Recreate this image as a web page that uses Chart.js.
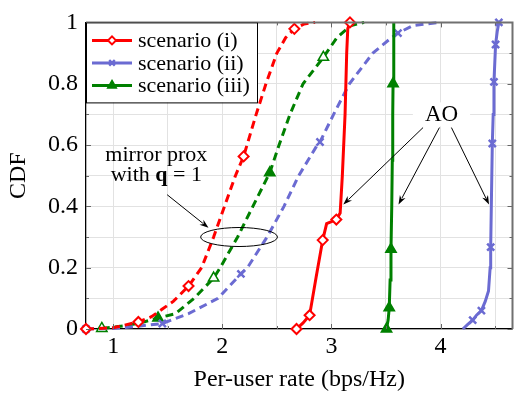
<!DOCTYPE html>
<html><head><meta charset="utf-8">
<script src="https://cdn.jsdelivr.net/npm/chart.js@4.4.0/dist/chart.umd.min.js"></script>
<style>html,body{margin:0;padding:0;background:#fff;}#wrap{width:520px;height:394px;}</style>
</head><body><div id="wrap"><canvas id="c" width="520" height="394"></canvas></div>
<script>
// ---------- data ----------
const seriesNames = ['scenario (i)', 'scenario (ii)', 'scenario (iii)'];

// mirror prox with q = 1 (dashed)
const mp1X = [0.75, 1.0, 1.23, 1.35, 1.45, 1.55, 1.69, 1.81, 1.92, 2.02, 2.12, 2.195, 2.31, 2.40, 2.50, 2.58, 2.66, 2.75, 2.85];
const mp1Y = [0, 0.004, 0.023, 0.04, 0.065, 0.09, 0.14, 0.2, 0.3, 0.4, 0.5, 0.563, 0.7, 0.8, 0.9, 0.95, 0.979, 0.995, 1.0];
const mp1Marks = [0, 2, 6, 11, 16];

const mp2X = [0.75, 1.0, 1.2, 1.45, 1.69, 1.96, 2.17, 2.23, 2.41, 2.565, 2.70, 2.87, 2.895, 3.02, 3.165, 3.38, 3.55, 3.61, 3.75, 4.0];
const mp2Y = [0, 0.002, 0.008, 0.018, 0.05, 0.1, 0.18, 0.2, 0.3, 0.4, 0.5, 0.6, 0.61, 0.7, 0.8, 0.9, 0.95, 0.965, 0.99, 1.0];
const mp2Marks = [0, 3, 6, 12, 17];

const mp3X = [0.895, 1.1, 1.25, 1.41, 1.57, 1.74, 1.92, 1.98, 2.14, 2.28, 2.435, 2.52, 2.62, 2.74, 2.926, 3.05, 3.18, 3.3];
const mp3Y = [0.002, 0.01, 0.02, 0.036, 0.05, 0.1, 0.166, 0.2, 0.3, 0.4, 0.51, 0.6, 0.7, 0.8, 0.886, 0.95, 0.99, 1.0];
const mp3Marks = [0, 3, 6, 10, 14];

// AO (solid)
const ao1X = [2.68, 2.74, 2.80, 2.86, 2.92, 2.956, 3.00, 3.045, 3.08, 3.10, 3.125, 3.14, 3.15, 3.17];
const ao1Y = [0, 0.02, 0.045, 0.17, 0.29, 0.344, 0.35, 0.357, 0.378, 0.5, 0.7, 0.9, 0.98, 1.0];
const ao1Marks = [0, 2, 4, 7, 13];

const ao2X = [4.205, 4.25, 4.295, 4.33, 4.375, 4.41, 4.44, 4.455, 4.46, 4.468, 4.475, 4.483, 4.49, 4.505, 4.52, 4.535];
const ao2Y = [0, 0.015, 0.029, 0.045, 0.06, 0.09, 0.124, 0.2, 0.267, 0.45, 0.605, 0.7, 0.806, 0.928, 0.97, 1.0];
const ao2Marks = [2, 4, 8, 10, 12, 13, 15];

const ao3X = [3.505, 3.52, 3.53, 3.538, 3.546, 3.553, 3.558, 3.562, 3.565, 3.57, 3.573];
const ao3Y = [0, 0.03, 0.069, 0.16, 0.26, 0.4, 0.55, 0.7, 0.8, 0.9, 1.0];
const ao3Marks = [0, 2, 4, 8];

// axis ticks
const xMajor = [1, 2, 3, 4];
const xMinor = [1.5, 2.5, 3.5, 4.5];
const yMajor = [0, 0.2, 0.4, 0.6, 0.8, 1];
const yMinor = [0.1, 0.3, 0.5, 0.7, 0.9];

// annotations (data coordinates)
const mirrorLabel = {x: 1.395, y: 0.535};
const mirrorEllipse = {x: 2.153, y: 0.30, rx: 0.352, ry: 0.031};
const mirrorArrow = {from: [1.494, 0.438], to: [1.873, 0.33]};
const aoLabel = {x: 4.009, y: 0.70};
const aoArrows = [
  {from: [3.84, 0.657], to: [3.109, 0.406]},
  {from: [3.99, 0.657], to: [3.615, 0.406]},
  {from: [4.10, 0.657], to: [4.445, 0.406]}
];

// ---------- styles ----------
const RED = '#ff0000', BLUE = '#6b6bd2', GREEN = '#008000';
const SERIF = "'Liberation Serif', 'Times New Roman', serif";

function pts(xs, ys) { return xs.map((x, i) => ({x: x, y: ys[i]})); }
function radii(n, marks, r) { return Array.from({length: n}, (_, i) => marks.includes(i) ? r : 0); }

const styleOf = [
  {color: RED, pointStyle: 'rectRot', r: 5, bw: 2, fill: '#fff'},
  {color: BLUE, pointStyle: 'crossRot', r: 5, bw: 2.5, fill: BLUE},
  {color: GREEN, pointStyle: 'triangle', r: 6, bw: 1.5, fill: GREEN}
];

function ds(xs, ys, marks, s, dashed, fills) {
  return {
    data: pts(xs, ys),
    showLine: true,
    borderColor: s.color,
    backgroundColor: s.color,
    borderWidth: 3,
    borderDash: dashed ? [8, 5] : [],
    pointStyle: s.pointStyle,
    pointRadius: radii(xs.length, marks, s.r),
    pointHoverRadius: 0,
    pointBorderColor: s.color,
    pointBorderWidth: s.bw,
    pointBackgroundColor: fills || s.fill,
    tension: 0,
    clip: 10
  };
}

const mp3Fills = mp3X.map((_, i) => [0, 6, 14].includes(i) ? '#fff' : GREEN);

const datasets = [
  ds(ao1X, ao1Y, ao1Marks, styleOf[0], false),
  ds(ao2X, ao2Y, ao2Marks, styleOf[1], false),
  ds(ao3X, ao3Y, ao3Marks, styleOf[2], false),
  ds(mp1X, mp1Y, mp1Marks, styleOf[0], true),
  ds(mp2X, mp2Y, mp2Marks, styleOf[1], true),
  ds(mp3X, mp3Y, mp3Marks, styleOf[2], true, mp3Fills)
];

// ---------- decorations ----------
function arrow(ctx, x1, y1, x2, y2) {
  const a = Math.atan2(y2 - y1, x2 - x1), L = 9, W = 3.2;
  ctx.beginPath(); ctx.moveTo(x1, y1);
  ctx.lineTo(x2 - L * 0.8 * Math.cos(a), y2 - L * 0.8 * Math.sin(a)); ctx.stroke();
  ctx.beginPath(); ctx.moveTo(x2, y2);
  ctx.lineTo(x2 - L * Math.cos(a) + W * Math.sin(a), y2 - L * Math.sin(a) - W * Math.cos(a));
  ctx.lineTo(x2 - L * 0.7 * Math.cos(a), y2 - L * 0.7 * Math.sin(a));
  ctx.lineTo(x2 - L * Math.cos(a) - W * Math.sin(a), y2 - L * Math.sin(a) + W * Math.cos(a));
  ctx.closePath(); ctx.fill();
}

const extras = {
  id: 'extras',
  beforeDraw(chart) {
    const ctx = chart.ctx;
    ctx.save(); ctx.fillStyle = '#fff'; ctx.fillRect(0, 0, chart.width, chart.height); ctx.restore();
  },
  afterDraw(chart) {
    const ctx = chart.ctx, a = chart.chartArea, xs = chart.scales.x, ys = chart.scales.y;
    const px = v => xs.getPixelForValue(v), py = v => ys.getPixelForValue(v);
    ctx.save();
    // tick marks (inward)
    ctx.strokeStyle = '#666'; ctx.lineWidth = 1;
    [...xMajor, ...xMinor].forEach(v => {
      const L = xMajor.includes(v) ? 5 : 3, x = Math.round(px(v)) + 0.5;
      ctx.beginPath(); ctx.moveTo(x, a.bottom); ctx.lineTo(x, a.bottom - L);
      ctx.moveTo(x, a.top); ctx.lineTo(x, a.top + L); ctx.stroke();
    });
    [...yMajor, ...yMinor].forEach(v => {
      const L = yMajor.includes(v) ? 5 : 3, y = Math.round(py(v)) + 0.5;
      ctx.beginPath(); ctx.moveTo(a.left, y); ctx.lineTo(a.left + L, y);
      ctx.moveTo(a.right, y); ctx.lineTo(a.right - L, y); ctx.stroke();
    });
    // top / right frame
    ctx.strokeStyle = '#707070'; ctx.lineWidth = 2;
    ctx.beginPath(); ctx.moveTo(a.left, a.top); ctx.lineTo(a.right, a.top); ctx.lineTo(a.right, a.bottom); ctx.stroke();

    // mirror prox annotation
    ctx.fillStyle = '#000'; ctx.strokeStyle = '#000'; ctx.lineWidth = 1;
    ctx.textBaseline = 'middle'; ctx.textAlign = 'center';
    const fN = '22px ' + SERIF, fB = 'bold 22px ' + SERIF;
    ctx.font = fN;
    const mx = px(mirrorLabel.x), my = py(mirrorLabel.y);
    ctx.fillText('mirror prox', mx, my - 10);
    const p1 = 'with ', p3 = ' = 1';
    ctx.font = fN; const w1 = ctx.measureText(p1).width, w3 = ctx.measureText(p3).width;
    ctx.font = fB; const w2 = ctx.measureText('q').width;
    let sx = mx - (w1 + w2 + w3) / 2; ctx.textAlign = 'left';
    ctx.font = fN; ctx.fillText(p1, sx, my + 10);
    ctx.font = fB; ctx.fillText('q', sx + w1, my + 10);
    ctx.font = fN; ctx.fillText(p3, sx + w1 + w2, my + 10);
    ctx.beginPath();
    ctx.ellipse(px(mirrorEllipse.x), py(mirrorEllipse.y),
      px(mirrorEllipse.x + mirrorEllipse.rx) - px(mirrorEllipse.x),
      py(mirrorEllipse.y - mirrorEllipse.ry) - py(mirrorEllipse.y), 0, 0, 2 * Math.PI);
    ctx.stroke();
    arrow(ctx, px(mirrorArrow.from[0]), py(mirrorArrow.from[1]), px(mirrorArrow.to[0]), py(mirrorArrow.to[1]));

    // AO annotation
    ctx.font = '23px ' + SERIF; ctx.textAlign = 'center';
    const ax = px(aoLabel.x), ay = py(aoLabel.y), aw = ctx.measureText('AO').width;
    ctx.fillStyle = '#fff'; ctx.fillRect(ax - aw / 2 - 12, ay - 12, aw + 24, 24);
    ctx.fillStyle = '#000'; ctx.fillText('AO', ax, ay + 1);
    aoArrows.forEach(r => arrow(ctx, px(r.from[0]), py(r.from[1]), px(r.to[0]), py(r.to[1])));

    // legend
    const lx = a.left, ly = a.top, lw = 172, lh = 80;
    ctx.fillStyle = '#fff'; ctx.fillRect(lx, ly, lw, lh);
    ctx.strokeStyle = '#000'; ctx.lineWidth = 1;
    ctx.strokeRect(lx + 0.5, ly + 0.5, lw - 1, lh);
    ctx.font = '22px ' + SERIF; ctx.textAlign = 'left'; ctx.textBaseline = 'middle';
    seriesNames.forEach((name, i) => {
      const s = styleOf[i], y = ly + 18 + i * 22.5;
      ctx.strokeStyle = s.color; ctx.lineWidth = 3; ctx.setLineDash([]);
      ctx.beginPath(); ctx.moveTo(lx + 6, y); ctx.lineTo(lx + 46, y); ctx.stroke();
      ctx.fillStyle = s.fill; ctx.strokeStyle = s.color; ctx.lineWidth = s.bw;
      Chart.helpers.drawPoint(ctx, {pointStyle: s.pointStyle, radius: s.r - 1, borderWidth: s.bw, rotation: 0}, lx + 26, y);
      ctx.fillStyle = '#000';
      ctx.fillText(name, lx + 52, y + 1);
    });
    ctx.restore();
  }
};

const tickFont = {family: SERIF, size: 24};

new Chart(document.getElementById('c'), {
  type: 'scatter',
  data: {datasets: datasets},
  options: {
    responsive: false, animation: false, devicePixelRatio: 1,
    events: [],
    layout: {padding: {top: 14, right: 1, left: 0, bottom: 0}},
    plugins: {legend: {display: false}, tooltip: {enabled: false}},
    scales: {
      x: {
        type: 'linear', min: 0.75, max: 4.66,
        afterBuildTicks: s => { s.ticks = [...xMajor, ...xMinor].sort((p, q) => p - q).map(v => ({value: v})); },
        afterFit: s => { s.height = 65; },
        ticks: {callback: v => xMajor.includes(v) ? String(v) : '', font: tickFont, color: '#000', padding: 3, maxRotation: 0, autoSkip: false},
        grid: {color: '#e2e2e2', lineWidth: 1, drawTicks: false},
        border: {color: '#000', width: 1.3},
        title: {display: true, text: 'Per-user rate (bps/Hz)', font: {family: SERIF, size: 24}, color: '#000', padding: {top: 2, bottom: 0}}
      },
      y: {
        type: 'linear', min: 0, max: 1,
        afterBuildTicks: s => { s.ticks = [...yMajor, ...yMinor].sort((p, q) => p - q).map(v => ({value: v})); },
        afterFit: s => { s.width = 86; },
        ticks: {callback: v => yMajor.includes(v) ? String(v) : '', font: tickFont, color: '#000', padding: 8, autoSkip: false},
        grid: {color: '#e2e2e2', lineWidth: 1, drawTicks: false},
        border: {color: '#000', width: 1.3},
        title: {display: true, text: 'CDF', font: {family: SERIF, size: 24}, color: '#000', padding: {top: 4, bottom: 0}}
      }
    }
  },
  plugins: [extras]
});
</script></body></html>
